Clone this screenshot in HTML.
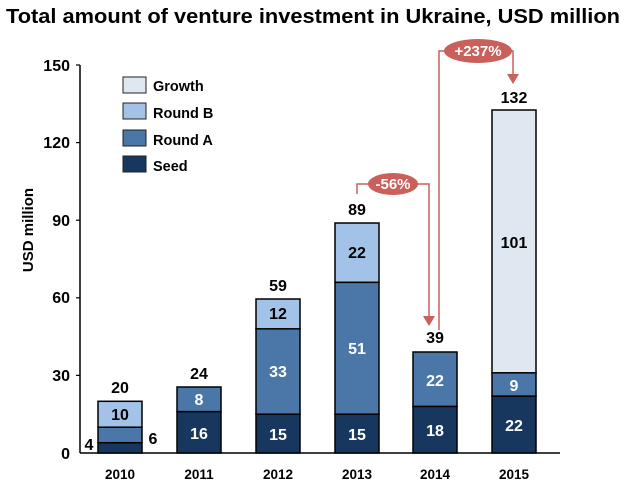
<!DOCTYPE html>
<html><head><meta charset="utf-8"><style>
body{margin:0;background:#fff}
text{font-family:"Liberation Sans",Arial,sans-serif;font-weight:bold}
</style></head><body>
<svg width="626" height="489" viewBox="0 0 626 489" xmlns="http://www.w3.org/2000/svg">
<text x="6" y="23" font-size="20" fill="#000" textLength="614" lengthAdjust="spacingAndGlyphs">Total amount of venture investment in Ukraine, USD million</text>
<line x1="80" y1="65" x2="80" y2="453" stroke="#000" stroke-width="1.5"/>
<line x1="80" y1="453" x2="560" y2="453" stroke="#000" stroke-width="1.5"/>
<g stroke="#000" stroke-width="1.2">
<line x1="76" y1="65" x2="80" y2="65"/><line x1="76" y1="142.6" x2="80" y2="142.6"/>
<line x1="76" y1="220.2" x2="80" y2="220.2"/><line x1="76" y1="297.8" x2="80" y2="297.8"/>
<line x1="76" y1="375.4" x2="80" y2="375.4"/>
</g>
<g font-size="16" text-anchor="end" fill="#000">
<text x="70" y="71">150</text><text x="70" y="148">120</text><text x="70" y="226">90</text>
<text x="70" y="303">60</text><text x="70" y="381">30</text><text x="70" y="459">0</text>
</g>
<text transform="translate(33,230) rotate(-90)" font-size="15" text-anchor="middle">USD million</text>
<g stroke="#222" stroke-width="1">
<rect x="123" y="77" width="23" height="16" fill="#dfe7f1"/>
<rect x="123" y="103" width="23" height="16" fill="#a2c2e8"/>
<rect x="123" y="130" width="23" height="16" fill="#4a76a8"/>
<rect x="123" y="156" width="23" height="16" fill="#17375e"/>
</g>
<g font-size="14.5" fill="#000">
<text x="153" y="91">Growth</text><text x="153" y="118">Round B</text>
<text x="153" y="145">Round A</text><text x="153" y="171">Seed</text>
</g>
<g stroke="#000" stroke-width="1.5">
<rect x="98" y="442.7" width="44" height="10.3" fill="#17375e"/>
<rect x="98" y="427.2" width="44" height="15.5" fill="#4a76a8"/>
<rect x="98" y="401.3" width="44" height="25.9" fill="#a2c2e8"/>
<rect x="177" y="411.6" width="44" height="41.4" fill="#17375e"/>
<rect x="177" y="387" width="44" height="24.6" fill="#4a76a8"/>
<rect x="256" y="414.2" width="44" height="38.8" fill="#17375e"/>
<rect x="256" y="328.8" width="44" height="85.4" fill="#4a76a8"/>
<rect x="256" y="299" width="44" height="29.8" fill="#a2c2e8"/>
<rect x="335" y="414.2" width="44" height="38.8" fill="#17375e"/>
<rect x="335" y="282.3" width="44" height="131.9" fill="#4a76a8"/>
<rect x="335" y="223" width="44" height="59.3" fill="#a2c2e8"/>
<rect x="413" y="406.4" width="44" height="46.6" fill="#17375e"/>
<rect x="413" y="352" width="44" height="54.4" fill="#4a76a8"/>
<rect x="492" y="396.1" width="44" height="56.9" fill="#17375e"/>
<rect x="492" y="372.8" width="44" height="23.3" fill="#4a76a8"/>
<rect x="492" y="110" width="44" height="262.8" fill="#dfe7f1"/>
</g>
<g font-size="16" text-anchor="middle" fill="#fff">
<text x="199" y="439">16</text><text x="199" y="405">8</text>
<text x="278" y="440">15</text><text x="278" y="377">33</text>
<text x="357" y="440">15</text><text x="357" y="354">51</text>
<text x="435" y="436">18</text><text x="435" y="386">22</text>
<text x="514" y="431">22</text><text x="514" y="391">9</text>
</g>
<g font-size="16" text-anchor="middle" fill="#000">
<text x="120" y="420">10</text><text x="278" y="319">12</text><text x="357" y="258">22</text>
<text x="514" y="248">101</text>
<text x="120" y="393">20</text><text x="199" y="379">24</text><text x="278" y="291">59</text>
<text x="357" y="215">89</text><text x="435" y="343">39</text><text x="514" y="103">132</text>
<text x="89" y="450">4</text><text x="153" y="444">6</text>
</g>
<g font-size="13.5" text-anchor="middle" fill="#000">
<text x="120" y="479">2010</text><text x="199" y="479">2011</text><text x="278" y="479">2012</text>
<text x="357" y="479">2013</text><text x="435" y="479">2014</text><text x="514" y="479">2015</text>
</g>
<g stroke="#c9605c" stroke-width="1.5" fill="none">
<polyline points="357,194 357,184 429,184 429,318"/>
<polyline points="439,330 439,51 513,51 513,76"/>
</g>
<g fill="#c9605c">
<polygon points="423,316 435,316 429,326"/>
<polygon points="507,74 519,74 513,84"/>
<ellipse cx="393" cy="184" rx="25" ry="11"/>
<ellipse cx="478" cy="51" rx="34" ry="12"/>
</g>
<g font-size="15" text-anchor="middle" fill="#fff">
<text x="393" y="189">-56%</text><text x="478" y="56">+237%</text>
</g>
</svg>
</body></html>
